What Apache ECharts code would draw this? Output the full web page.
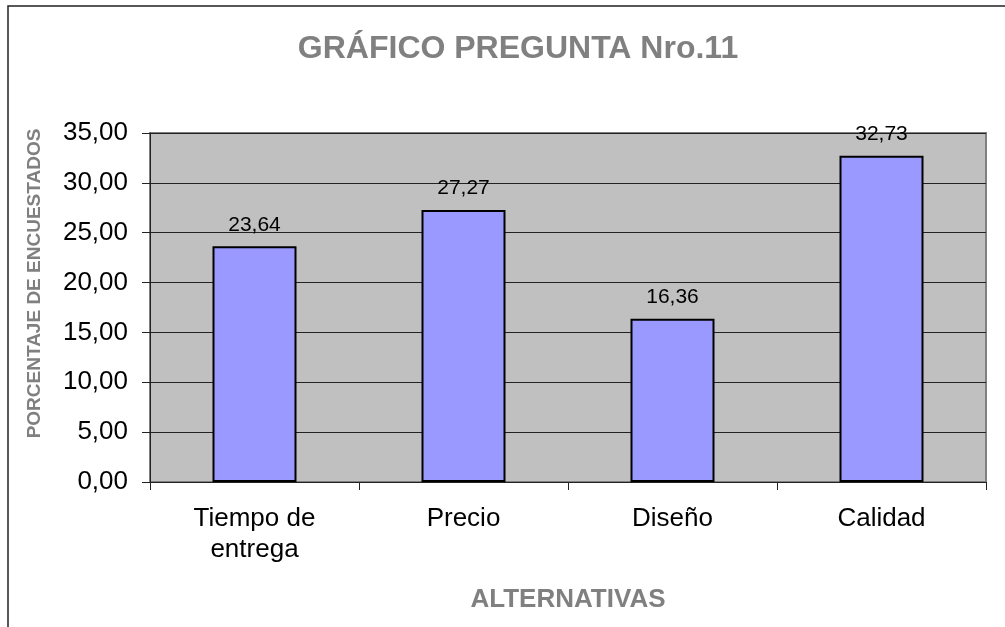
<!DOCTYPE html>
<html>
<head>
<meta charset="utf-8">
<script src="https://cdn.jsdelivr.net/npm/echarts@6/dist/echarts.min.js"></script>
<style>
  html, body { margin: 0; padding: 0; background: #fff; }
  #chart { width: 1005px; height: 627px; }
</style>
</head>
<body>
<div id="chart"></div>
<script>
var categories = ['Tiempo de\nentrega', 'Precio', 'Diseño', 'Calidad'];
var values = [23.64, 27.27, 16.36, 32.73];
var yTicks = [0, 5, 10, 15, 20, 25, 30, 35];

var fontName = '"Liberation Sans", Arial, sans-serif';

function fmt(v) {
    return Number(v).toFixed(2).replace('.', ',');
}

var option = {
    animation: false,
    backgroundColor: '#ffffff',
    title: {
        text: 'GRÁFICO PREGUNTA Nro.11',
        left: 513,
        top: 28,
        textAlign: 'center',
        textStyle: {
            color: '#808080',
            fontSize: 32,
            fontWeight: 'bold',
            fontFamily: fontName
        }
    },
    graphic: [{
        type: 'rect',
        shape: { x: 8, y: 6, width: 1100, height: 800 },
        style: { fill: 'none', stroke: '#222', lineWidth: 1.5 },
        silent: true
    }],
    grid: {
        left: 150,
        top: 133,
        right: 19,
        bottom: 145,
        show: true,
        backgroundColor: '#C0C0C0',
        borderColor: '#808080',
        borderWidth: 2
    },
    xAxis: {
        type: 'category',
        data: categories,
        name: 'ALTERNATIVAS',
        nameLocation: 'middle',
        nameGap: 105,
        nameTextStyle: {
            color: '#808080',
            fontSize: 26,
            fontWeight: 'bold',
            fontFamily: fontName
        },
        axisLine: { lineStyle: { color: '#222', width: 1 } },
        axisTick: { show: true, length: 8, alignWithLabel: false, lineStyle: { color: '#222' } },
        axisLabel: {
            color: '#000',
            fontSize: 26,
            fontFamily: fontName,
            margin: 21,
            lineHeight: 31
        }
    },
    yAxis: {
        type: 'value',
        min: yTicks[0],
        max: yTicks[yTicks.length - 1],
        interval: 5,
        name: 'PORCENTAJE DE ENCUESTADOS',
        nameLocation: 'middle',
        nameGap: 106,
        nameTextStyle: {
            color: '#808080',
            fontSize: 19,
            fontWeight: 'bold',
            fontFamily: fontName,
            padding: [0, 0, 0, 48]
        },
        axisLine: { show: true, lineStyle: { color: '#222', width: 1 } },
        axisTick: { show: true, length: 8, lineStyle: { color: '#222' } },
        axisLabel: {
            color: '#000',
            fontSize: 26,
            fontFamily: fontName,
            margin: 22,
            formatter: function (v) { return fmt(v); }
        },
        splitLine: { show: true, lineStyle: { color: '#222', width: 1 } }
    },
    series: [{
        type: 'bar',
        data: values,
        barWidth: 84,
        itemStyle: {
            color: '#9999FF',
            borderColor: '#000',
            borderWidth: 2
        },
        label: {
            show: true,
            position: 'top',
            distance: 11,
            color: '#000',
            fontSize: 21,
            fontFamily: fontName,
            formatter: function (p) { return fmt(p.value); }
        }
    }]
};

var myChart = echarts.init(document.getElementById('chart'));
myChart.setOption(option);
</script>
</body>
</html>
